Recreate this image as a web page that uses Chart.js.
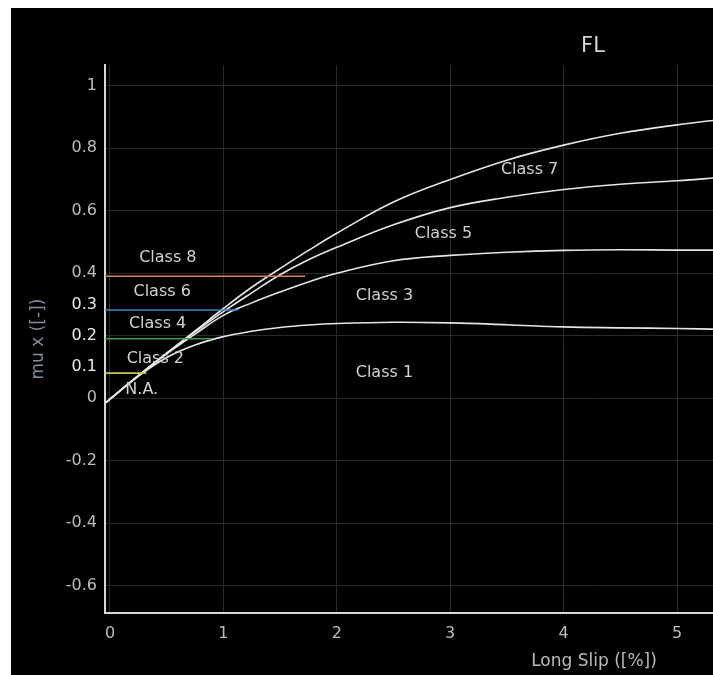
<!DOCTYPE html>
<html>
<head>
<meta charset="utf-8">
<script src="https://cdn.jsdelivr.net/npm/chart.js@4/dist/chart.umd.min.js"></script>
<style>
    html, body { margin: 0; padding: 0; background: #fff; overflow: hidden; }
    #wrap { position: absolute; left: 11px; top: 8px; width: 1164px; height: 667px; background: #000; }
</style>
</head>
<body>
<div id="wrap"><canvas id="fl-chart" width="1164" height="667"></canvas></div>
<script>
// long slip [%] sample positions shared by the class limit curves
const slip = [-0.04, 0.25, 0.5, 0.75, 1, 1.25, 1.5, 1.75, 2, 2.5, 3, 3.5, 4, 4.5, 5, 5.4];

// upper limit curves of the odd classes (mu x)
const muClass1 = [-0.015, 0.07, 0.13, 0.17, 0.197, 0.214, 0.226, 0.234, 0.239, 0.243, 0.241, 0.235, 0.228, 0.225, 0.223, 0.22];
const muClass3 = [-0.015, 0.072, 0.142, 0.205, 0.265, 0.305, 0.34, 0.372, 0.4, 0.44, 0.457, 0.467, 0.473, 0.475, 0.474, 0.474];
const muClass5 = [-0.015, 0.072, 0.144, 0.212, 0.277, 0.337, 0.395, 0.443, 0.483, 0.555, 0.61, 0.643, 0.668, 0.685, 0.696, 0.707];
const muClass7 = [-0.015, 0.072, 0.144, 0.215, 0.287, 0.355, 0.415, 0.473, 0.528, 0.628, 0.70, 0.762, 0.81, 0.848, 0.875, 0.893];

// even class thresholds: level and slip where the line stops
const thresholdLevels = [0.08, 0.19, 0.282, 0.39];
const thresholdEnds = [0.32, 0.9, 1.13, 1.72];
const thresholdColors = ['#c9c75a', '#3f9a4c', '#3f86c4', '#d9825c'];

// region labels
const labelTexts = ['N.A.', 'Class 2', 'Class 4', 'Class 6', 'Class 8', 'Class 1', 'Class 3', 'Class 5', 'Class 7'];
const labelX = [0.28, 0.4, 0.42, 0.46, 0.51, 2.42, 2.42, 2.94, 3.7];
const labelY = [0.026, 0.125, 0.237, 0.339, 0.448, 0.08, 0.326, 0.525, 0.73];

const yTicks = [-0.6, -0.4, -0.2, 0, 0.1, 0.2, 0.3, 0.4, 0.6, 0.8, 1];
const xTicks = [0, 1, 2, 3, 4, 5, 6, 7, 8];
const brightTicks = [0.1, 0.2, 0.3];

const FONT = '"DejaVu Sans", Verdana, sans-serif';

const toPoints = ys => slip.map((x, i) => ({ x: x, y: ys[i] }));

const curveDatasets = [muClass1, muClass3, muClass5, muClass7].map(ys => ({
    data: toPoints(ys),
    borderColor: '#e6e6e6',
    borderWidth: 1.6,
    pointRadius: 0,
    tension: 0.4
}));

const thresholdDatasets = thresholdLevels.map((level, i) => ({
    data: [{ x: -0.044, y: level }, { x: thresholdEnds[i], y: level }],
    borderColor: thresholdColors[i],
    borderWidth: 1.6,
    pointRadius: 0
}));

const classLabels = {
    id: 'classLabels',
    afterDatasetsDraw(chart) {
        const { ctx, scales: { x, y } } = chart;
        ctx.save();
        ctx.font = '16px ' + FONT;
        ctx.fillStyle = '#d2d2d2';
        ctx.textAlign = 'center';
        ctx.textBaseline = 'middle';
        labelTexts.forEach((t, i) => {
            ctx.fillText(t, x.getPixelForValue(labelX[i]), y.getPixelForValue(labelY[i]));
        });
        ctx.restore();
    }
};

const config = {
    type: 'line',
    data: { datasets: [...thresholdDatasets, ...curveDatasets] },
    options: {
        responsive: false,
        animation: false,
        devicePixelRatio: 1,
        layout: { padding: 0 },
        plugins: {
            legend: { display: false },
            tooltip: { enabled: false },
            title: {
                display: true,
                text: 'FL',
                color: '#d4d4d4',
                font: { family: FONT, size: 21, weight: 'normal' },
                padding: { top: 26, bottom: 6 }
            }
        },
        scales: {
            x: {
                type: 'linear',
                min: -0.044,
                max: 8.58,
                afterBuildTicks: scale => { scale.ticks = xTicks.map(v => ({ value: v })); },
                afterFit: scale => { scale.height = 62; },
                border: { color: '#d8d8d8', width: 2 },
                grid: { color: '#2a2a2a', drawTicks: false },
                ticks: {
                    color: '#bdbdbd',
                    padding: 11,
                    font: { family: FONT, size: 16 },
                    callback: v => v
                },
                title: {
                    display: true,
                    text: 'Long Slip ([%])',
                    color: '#b8bcc0',
                    font: { family: FONT, size: 17 },
                    padding: { top: 0, bottom: 3 }
                }
            },
            y: {
                type: 'linear',
                min: -0.688,
                max: 1.066,
                afterBuildTicks: scale => { scale.ticks = yTicks.map(v => ({ value: v })); },
                afterFit: scale => { scale.width = 94; },
                border: { color: '#d8d8d8', width: 2 },
                grid: {
                    drawTicks: false,
                    color: c => (c.tick && (c.tick.value === 0.1 || c.tick.value === 0.3)) ? 'rgba(0,0,0,0)' : '#2a2a2a'
                },
                ticks: {
                    padding: 8,
                    font: { family: FONT, size: 16 },
                    color: c => brightTicks.includes(c.tick.value) ? '#ececec' : '#bdbdbd',
                    callback: v => v
                },
                title: {
                    display: true,
                    text: 'mu x ([-])',
                    color: '#7f8d9c',
                    font: { family: FONT, size: 17 },
                    padding: { top: 17, bottom: 0 }
                }
            },
            // empty right-hand strip of the original plot
            side: {
                position: 'right',
                afterFit: scale => { scale.width = 92; },
                border: { display: false },
                grid: { display: false },
                ticks: { display: false }
            }
        }
    },
    plugins: [classLabels]
};

new Chart(document.getElementById('fl-chart').getContext('2d'), config);
</script>
</body>
</html>
